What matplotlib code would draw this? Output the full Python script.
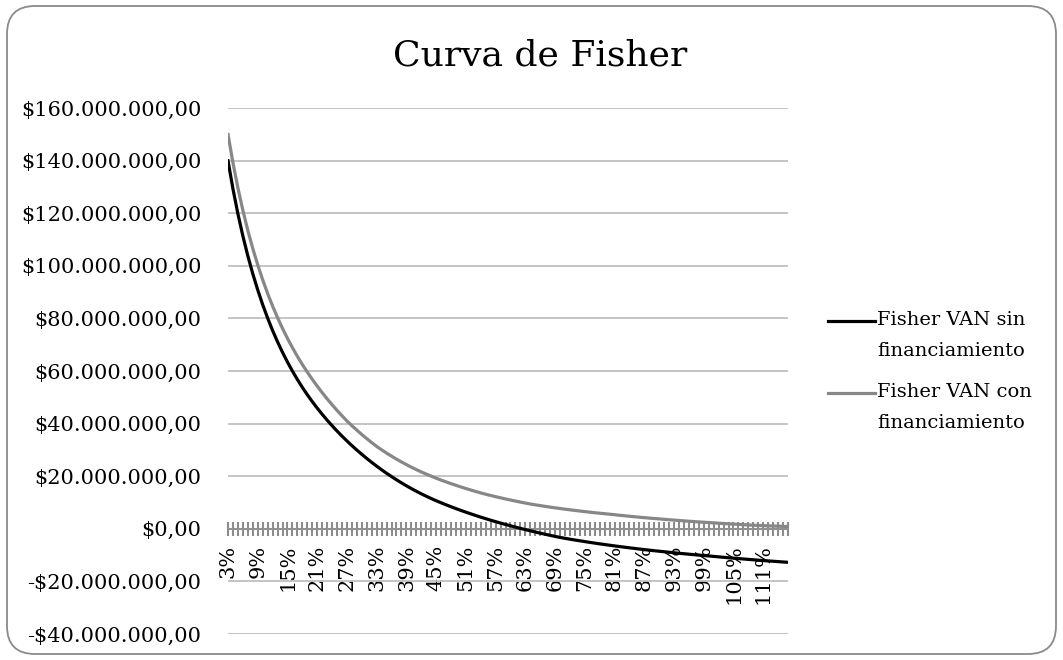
import matplotlib
matplotlib.use("Agg")
import numpy as np
from matplotlib import pyplot as plt
from matplotlib.patches import FancyBboxPatch
from matplotlib.lines import Line2D
from matplotlib.ticker import FuncFormatter

# tasas de descuento (eje de categorias)
tasas = list(range(3, 117))

# VAN en millones de pesos
van_sin = [139.96, 129.24, 119.76, 111.33, 103.77, 96.97, 90.82, 85.21, 80.10, 75.40,
           71.08, 67.09, 63.40, 59.97, 56.77, 53.78, 50.99, 48.37, 45.90, 43.55,
           41.33, 39.20, 37.18, 35.25, 33.40, 31.63, 29.94, 28.31, 26.75, 25.25,
           23.82, 22.44, 21.11, 19.85, 18.63, 17.47, 16.36, 15.29, 14.28, 13.30,
           12.39, 11.51, 10.68, 9.89, 9.13, 8.39, 7.68, 6.99, 6.32, 5.68,
           5.05, 4.44, 3.85, 3.27, 2.72, 2.18, 1.65, 1.14, 0.65, 0.16,
           -0.31, -0.77, -1.21, -1.65, -2.07, -2.49, -2.89, -3.28, -3.62, -3.94,
           -4.26, -4.56, -4.86, -5.16, -5.44, -5.72, -5.98, -6.25, -6.50, -6.75,
           -6.99, -7.23, -7.46, -7.69, -7.91, -8.12, -8.33, -8.53, -8.73, -8.93,
           -9.11, -9.30, -9.48, -9.66, -9.83, -10.00, -10.16, -10.32, -10.50, -10.67,
           -10.84, -11.01, -11.16, -11.32, -11.47, -11.63, -11.78, -11.93, -12.07, -12.21,
           -12.34, -12.48, -12.61, -12.74]

van_con = [149.96, 139.16, 129.60, 121.09, 113.45, 106.57, 100.34, 94.65, 89.46, 84.68,
           80.28, 76.19, 72.40, 68.87, 65.57, 62.48, 59.59, 56.85, 54.25, 51.78,
           49.43, 47.18, 45.03, 42.98, 41.00, 39.21, 37.51, 35.86, 34.28, 32.77,
           31.32, 30.03, 28.79, 27.62, 26.49, 25.42, 24.41, 23.43, 22.51, 21.62,
           20.80, 20.01, 19.25, 18.53, 17.84, 17.17, 16.53, 15.91, 15.31, 14.74,
           14.18, 13.64, 13.15, 12.67, 12.22, 11.78, 11.35, 10.94, 10.55, 10.16,
           9.79, 9.43, 9.12, 8.82, 8.53, 8.24, 7.98, 7.72, 7.46, 7.22,
           6.98, 6.76, 6.54, 6.32, 6.12, 5.92, 5.74, 5.55, 5.35, 5.15,
           4.96, 4.77, 4.59, 4.41, 4.24, 4.08, 3.92, 3.77, 3.61, 3.45,
           3.31, 3.16, 3.02, 2.88, 2.75, 2.62, 2.50, 2.38, 2.25, 2.13,
           2.01, 1.89, 1.79, 1.68, 1.58, 1.47, 1.37, 1.27, 1.20, 1.12,
           1.06, 0.99, 0.92, 0.86]

nombres = ["Fisher VAN sin\nfinanciamiento", "Fisher VAN con\nfinanciamiento"]

fuente = "DejaVu Serif"
plt.rcParams['font.family'] = [fuente, 'DejaVu Sans']


def pesos(v, pos):
    s = f"{abs(v):,.2f}".replace(",", "X").replace(".", ",").replace("X", ".")
    return ("-$" if v < 0 else "$") + s


fig = plt.figure(figsize=(10.63, 6.6), dpi=100)

borde = FancyBboxPatch((0.07, 0.06), 10.49, 6.48,
                       boxstyle="round,pad=0,rounding_size=0.28",
                       transform=fig.dpi_scale_trans, facecolor="none",
                       edgecolor="#8a8a8a", linewidth=1.3, zorder=-1)
fig.patches.append(borde)

ax = fig.add_axes([228 / 1063, 1 - 634 / 660, 560 / 1063, 526 / 660])
ax.set_facecolor("none")

x = np.arange(len(tasas))
ax.plot(x, np.array(van_sin) * 1e6, color="black", lw=2.3, zorder=4)
ax.plot(x, np.array(van_con) * 1e6, color="#878787", lw=2.3, zorder=4)

ax.set_xlim(0, len(tasas) - 1)
ax.set_ylim(-40e6, 160e6)
ax.set_yticks(np.arange(-40e6, 160e6 + 1, 20e6))
ax.yaxis.set_major_formatter(FuncFormatter(pesos))
ax.yaxis.grid(True, color="#bfbfbf", lw=1.3)
ax.set_axisbelow(True)

ax.set_xticks(x)
ax.set_xticklabels([f"{t}%" if (t - 3) % 6 == 0 else "" for t in tasas])

for lado in ["left", "right", "top"]:
    ax.spines[lado].set_visible(False)
ax.spines["bottom"].set_position(("data", 0))
ax.spines["bottom"].set_color("#8c8c8c")
ax.spines["bottom"].set_linewidth(1.3)

ax.tick_params(axis="y", length=0, pad=19, labelsize=15)
ax.tick_params(axis="x", direction="inout", length=10.5, width=1.5,
               color="#8c8c8c", pad=6, labelsize=15, labelrotation=90)

fig.text(0.508, 1 - 55 / 660, "Curva de Fisher", ha="center", va="center",
         fontsize=26)

# leyenda
colores = ["black", "#878787"]
y_linea = [321, 393]
for nombre, c, yl in zip(nombres, colores, y_linea):
    yi = (660 - yl) / 100
    fig.add_artist(Line2D([8.28, 8.75], [yi, yi], color=c, lw=2.3,
                          transform=fig.dpi_scale_trans))
    fig.text(8.77, yi + 0.10, nombre, ha="left", va="top", fontsize=14,
             linespacing=1.9, transform=fig.dpi_scale_trans)

fig.savefig("out.png", dpi=100)
